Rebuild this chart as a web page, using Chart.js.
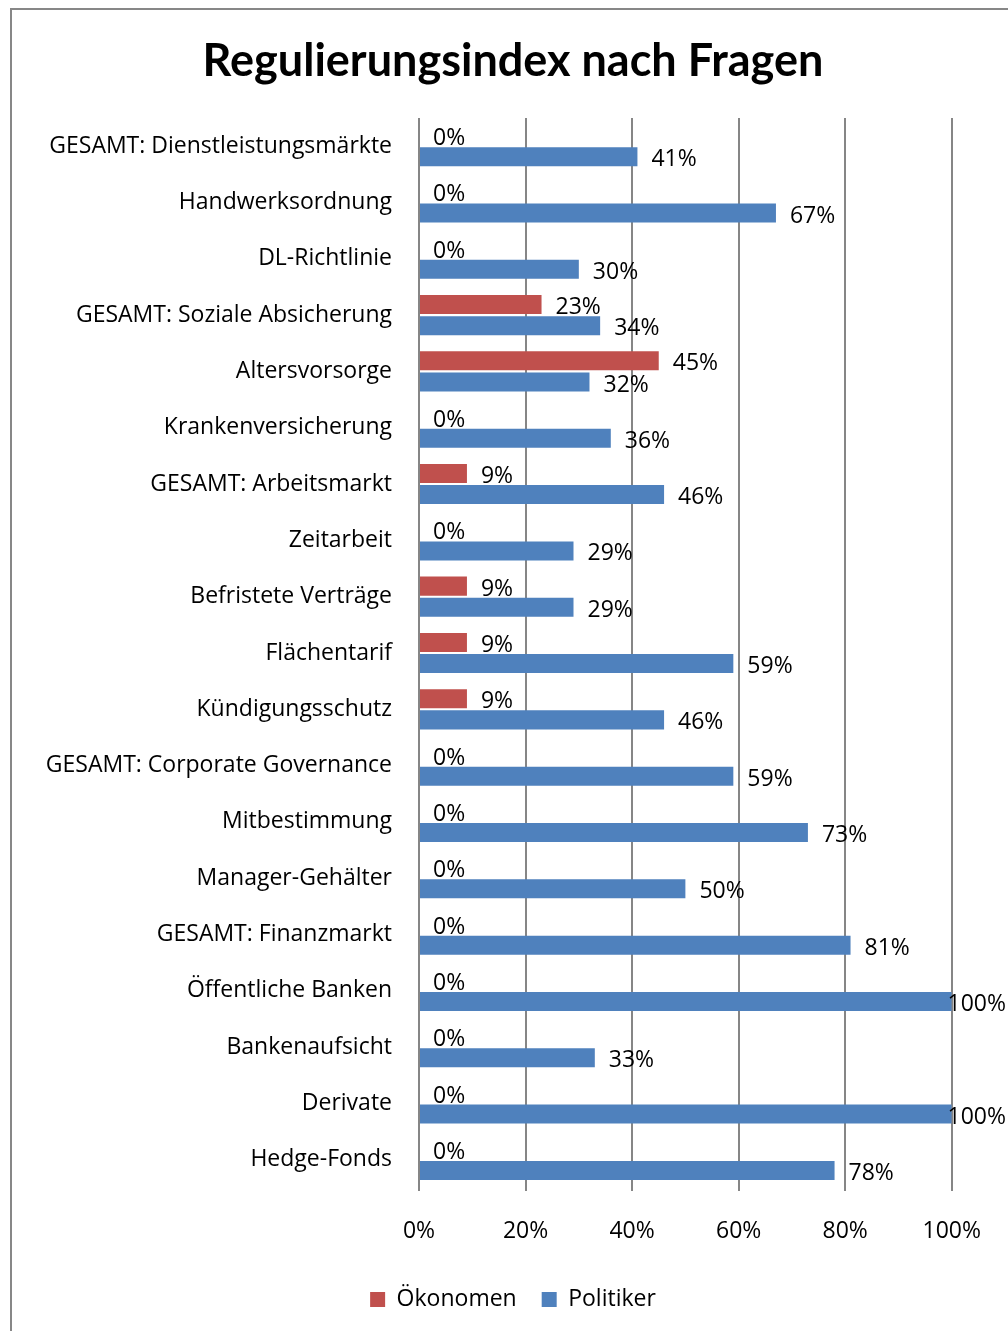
<!DOCTYPE html>
<html>
<head>
<meta charset="utf-8">
<script src="https://cdn.jsdelivr.net/npm/chart.js@4.4.1/dist/chart.umd.min.js"></script>
<style>
  html, body { margin: 0; padding: 0; background: #fff; overflow: hidden; }
  #frame { position: absolute; left: 10px; top: 8px; width: 1100px; height: 1400px; border: 2px solid #878787; }
  #chart { position: absolute; left: 0; top: 0; }
</style>
</head>
<body>
<div id="frame"></div>
<canvas id="chart" width="1008" height="1331"></canvas>
<script>
const categories = [
    "GESAMT: Dienstleistungsmärkte",
    "Handwerksordnung",
    "DL-Richtlinie",
    "GESAMT: Soziale Absicherung",
    "Altersvorsorge",
    "Krankenversicherung",
    "GESAMT: Arbeitsmarkt",
    "Zeitarbeit",
    "Befristete Verträge",
    "Flächentarif",
    "Kündigungsschutz",
    "GESAMT: Corporate Governance",
    "Mitbestimmung",
    "Manager-Gehälter",
    "GESAMT: Finanzmarkt",
    "Öffentliche Banken",
    "Bankenaufsicht",
    "Derivate",
    "Hedge-Fonds"
];
const oekonomen = [0, 0, 0, 23, 45, 0, 9, 0, 9, 9, 9, 0, 0, 0, 0, 0, 0, 0, 0];
const politiker = [41, 67, 30, 34, 32, 36, 46, 29, 29, 59, 46, 59, 73, 50, 81, 100, 33, 100, 78];
const xTicks = [0, 20, 40, 60, 80, 100];

const FONT = "'Open Sans', sans-serif";
const GRID = "#868686";

// value labels to the right of each bar, pushed back inside the canvas if needed
const barLabels = {
    id: "barLabels",
    afterDatasetsDraw(chart) {
        const ctx = chart.ctx;
        ctx.save();
        ctx.font = "23px " + FONT;
        ctx.fillStyle = "#000";
        ctx.textAlign = "left";
        ctx.textBaseline = "middle";
        chart.data.datasets.forEach((ds, di) => {
            chart.getDatasetMeta(di).data.forEach((bar, i) => {
                const text = ds.data[i] + "%";
                const w = ctx.measureText(text).width;
                let x = bar.x + 14;
                if (x + w > chart.width - 2) x = chart.width - 2 - w;
                ctx.fillText(text, x, bar.y + 3);
            });
        });
        ctx.restore();
    }
};

new Chart(document.getElementById("chart"), {
    type: "bar",
    data: {
        labels: categories,
        datasets: [
            { label: "Ökonomen", data: oekonomen, backgroundColor: "#C0504D" },
            { label: "Politiker", data: politiker, backgroundColor: "#4F81BD" }
        ]
    },
    options: {
        indexAxis: "y",
        responsive: false,
        animation: false,
        devicePixelRatio: 1,
        categoryPercentage: 0.75,
        barPercentage: 0.9,
        layout: { padding: { left: 18, right: 0, top: 0, bottom: 10 } },
        scales: {
            x: {
                min: xTicks[0],
                max: xTicks[xTicks.length - 1],
                border: { display: false },
                grid: { color: GRID, lineWidth: 2, drawTicks: true, tickLength: 3, tickColor: GRID },
                ticks: {
                    stepSize: xTicks[1] - xTicks[0],
                    padding: 27,
                    color: "#000",
                    font: { family: FONT, size: 23 },
                    callback: (v) => v + "%"
                },
                afterFit: (scale) => { scale.height = 75; }
            },
            y: {
                border: { display: false },
                grid: { display: false, drawTicks: false },
                ticks: {
                    padding: 27,
                    color: "#000",
                    font: { family: FONT, size: 23 },
                    autoSkip: false
                },
                afterFit: (scale) => { scale.width = 401; }
            },
            // empty spacer on the right so the plot ends at the 100% line
            yRight: {
                type: "linear",
                position: "right",
                border: { display: false },
                grid: { display: false, drawTicks: false },
                ticks: { display: false },
                afterFit: (scale) => { scale.width = 54; }
            }
        },
        plugins: {
            title: {
                display: true,
                text: "Regulierungsindex nach Fragen",
                color: "#000",
                font: { family: "Lato, sans-serif", size: 45, weight: "bold" },
                padding: { top: 34, bottom: 30 }
            },
            legend: {
                position: "bottom",
                labels: {
                    boxWidth: 15,
                    boxHeight: 15,
                    padding: 25,
                    color: "#000",
                    font: { family: FONT, size: 23 }
                }
            },
            tooltip: { enabled: false }
        }
    },
    plugins: [barLabels]
});
</script>
</body>
</html>
